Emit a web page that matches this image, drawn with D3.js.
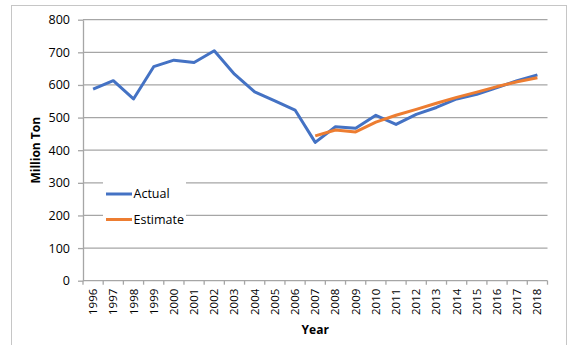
<!DOCTYPE html>
<html>
<head>
<meta charset="utf-8">
<script src="https://cdn.jsdelivr.net/npm/d3@7/dist/d3.min.js"></script>
<style>
  html, body { margin: 0; padding: 0; background: #fff; }
  svg { display: block; font-family: "Open Sans", sans-serif; }
</style>
</head>
<body>
<svg id="chart" width="569" height="345"></svg>
<script>
// Annual production, million tons
const years = ["1996","1997","1998","1999","2000","2001","2002","2003","2004","2005","2006","2007",
               "2008","2009","2010","2011","2012","2013","2014","2015","2016","2017","2018"];
const actual = [587, 613, 557, 656, 676, 669, 705, 633, 579, 551, 523, 424,
                472, 467, 507, 479, 510, 531, 557, 571, 592, 613, 631];
const estimateYears = ["2007","2008","2009","2010","2011","2012","2013","2014","2015","2016","2017","2018"];
const estimate = [444, 462, 456, 486, 507, 525, 544, 562, 578, 595, 610, 622];
const yTicks = [0, 100, 200, 300, 400, 500, 600, 700, 800];
const seriesNames = ["Actual", "Estimate"];
const seriesColors = ["#4472C4", "#ED7D31"];

const svg = d3.select("#chart");
const plotLeft = 83, plotRight = 547.5, plotTop = 19.7, plotBottom = 280.7;
const gridColor = "#a6a6a6";

// Outer chart frame
svg.append("rect")
  .attr("x", 11.5).attr("y", 5.5).attr("width", 555).attr("height", 360)
  .attr("fill", "none").attr("stroke", "#c6c6c6").attr("stroke-width", 1);

const x = d3.scaleBand().domain(years).range([plotLeft, plotRight]).padding(0);
const y = d3.scaleLinear().domain([0, 800]).range([plotBottom, plotTop]);

// Horizontal gridlines
svg.append("g").selectAll("line").data(yTicks.filter(d => d > 0)).join("line")
  .attr("x1", plotLeft).attr("x2", plotRight)
  .attr("y1", d => y(d)).attr("y2", d => y(d))
  .attr("stroke", gridColor).attr("stroke-width", 1.3);

// Y axis
const yAxis = svg.append("g").attr("transform", `translate(${plotLeft},0)`)
  .call(d3.axisLeft(y).tickValues(yTicks).tickSize(5).tickPadding(8).tickSizeOuter(0));
yAxis.select(".domain").attr("stroke", gridColor).attr("stroke-width", 1.3);
yAxis.selectAll(".tick line").attr("stroke", gridColor).attr("stroke-width", 1.3);
yAxis.selectAll(".tick text").attr("fill", "#000").style("font-size", "12.5px")
  .style("font-family", "'Open Sans', sans-serif");

// X axis: ticks sit on category boundaries
const xAxisG = svg.append("g");
xAxisG.append("line")
  .attr("x1", plotLeft).attr("x2", plotRight).attr("y1", plotBottom).attr("y2", plotBottom)
  .attr("stroke", gridColor).attr("stroke-width", 1.3);
const boundaries = years.map(d => x(d)).concat([x(years[years.length - 1]) + x.bandwidth()]);
xAxisG.selectAll("line.tk").data(boundaries).join("line").attr("class", "tk")
  .attr("x1", d => d).attr("x2", d => d).attr("y1", plotBottom).attr("y2", plotBottom + 4)
  .attr("stroke", gridColor).attr("stroke-width", 1.3);
xAxisG.selectAll("text").data(years).join("text")
  .attr("transform", d => `translate(${x(d) + x.bandwidth() / 2},${plotBottom + 8}) rotate(-90)`)
  .attr("text-anchor", "end").attr("dy", "0.35em")
  .style("font-size", "11.5px").attr("fill", "#000")
  .text(d => d);

// Axis titles
svg.append("text")
  .attr("transform", `translate(40,${(plotTop + plotBottom) / 2}) rotate(-90)`)
  .attr("text-anchor", "middle")
  .style("font-size", "12px").style("font-weight", "bold")
  .text("Million Ton");
svg.append("text")
  .attr("x", (plotLeft + plotRight) / 2).attr("y", 334)
  .attr("text-anchor", "middle")
  .style("font-size", "12px").style("font-weight", "bold")
  .text("Year");

// Series lines
const line = d3.line().x(d => x(d[0]) + x.bandwidth() / 2).y(d => y(d[1]));
const actualPts = years.map((yr, i) => [yr, actual[i]]);
const estimatePts = estimateYears.map((yr, i) => [yr, estimate[i]]);

svg.append("path").datum(actualPts)
  .attr("d", line).attr("fill", "none")
  .attr("stroke", seriesColors[0]).attr("stroke-width", 3).attr("stroke-linejoin", "round");
svg.append("path").datum(estimatePts)
  .attr("d", line).attr("fill", "none")
  .attr("stroke", seriesColors[1]).attr("stroke-width", 3).attr("stroke-linejoin", "round");

// Legend
const legend = svg.append("g");
legend.append("rect").attr("x", 103).attr("y", 177).attr("width", 83).attr("height", 50).attr("fill", "#fff");
seriesNames.forEach((name, i) => {
  const ly = 194 + i * 25.5;
  legend.append("line")
    .attr("x1", 106).attr("x2", 132).attr("y1", ly).attr("y2", ly)
    .attr("stroke", seriesColors[i]).attr("stroke-width", 3);
  legend.append("text")
    .attr("x", 133.5).attr("y", ly).attr("dy", "0.35em")
    .style("font-size", "12.5px").attr("fill", "#000")
    .text(name);
});
</script>
</body>
</html>
